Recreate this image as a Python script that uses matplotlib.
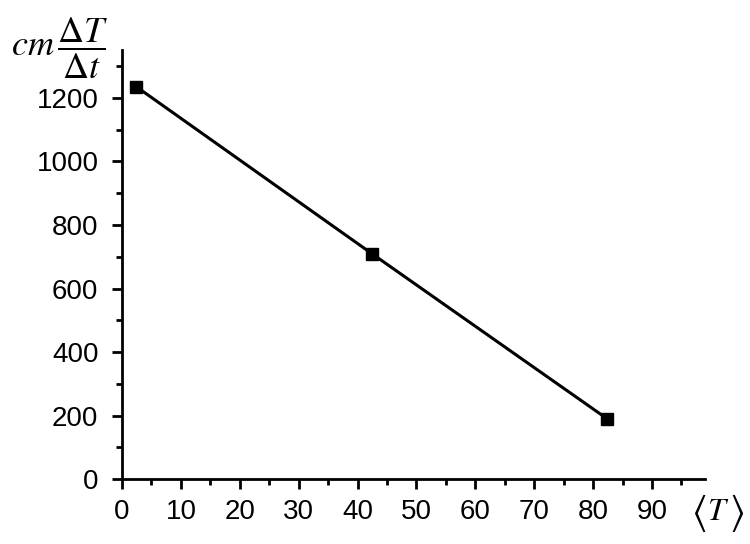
import numpy as np
import matplotlib
matplotlib.use("Agg")
import matplotlib.pyplot as plt
from matplotlib.ticker import MultipleLocator

# Datos
mean_T = [2.4, 42.4, 82.4]
rate = [1235, 710, 190]
x_ticks = [0, 10, 20, 30, 40, 50, 60, 70, 80, 90]
y_ticks = [0, 200, 400, 600, 800, 1000, 1200]

plt.rcParams['font.family'] = ['Liberation Sans', 'DejaVu Sans']
plt.rcParams['mathtext.fontset'] = 'stix'

fig = plt.figure(figsize=(7.5, 5.44), dpi=100)
ax = fig.add_axes([0.1627, 0.119, 0.7773, 0.789])

ax.plot(mean_T, rate, color='black', lw=2.2, marker='s', ms=8,
        markerfacecolor='black', markeredgecolor='black')

ax.set_xlim(0, 99)
ax.set_ylim(0, 1350)
ax.set_xticks(x_ticks)
ax.set_yticks(y_ticks)
ax.xaxis.set_minor_locator(MultipleLocator(5))
ax.yaxis.set_minor_locator(MultipleLocator(100))

for s in ['top', 'right']:
    ax.spines[s].set_visible(False)
for s in ['left', 'bottom']:
    ax.spines[s].set_linewidth(2)

ax.tick_params(which='major', direction='out', length=7, width=2,
               labelsize=20)
ax.tick_params(which='minor', direction='out', length=4, width=2)
ax.tick_params(axis='x', which='major', pad=7)
ax.tick_params(axis='y', which='major', pad=10)

# Etiquetas de los ejes
fig.text(0.08, 0.911, r'$cm\,\dfrac{\Delta T}{\Delta t}$', fontsize=26,
         ha='center', va='center')
# <T> con corchetes angulares grandes
fig.text(0.957, 0.058, r'$T$', fontsize=23, ha='center', va='center')
fig.text(0.932, 0.057, r'$\langle$', fontsize=29, ha='center', va='center')
fig.text(0.982, 0.057, r'$\rangle$', fontsize=29, ha='center', va='center')

fig.savefig("out.png", dpi=100)
plt.close()
